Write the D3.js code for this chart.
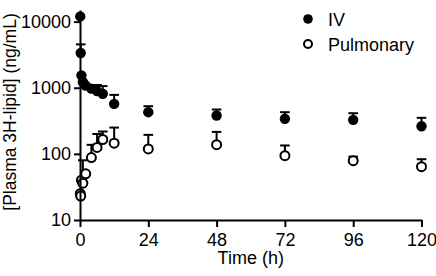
<!DOCTYPE html>
<html>
  <head>
    <title>Plasma 3H-lipid, IV vs pulmonary</title>
    <style>
      body {
        margin: 0;
        background: #fff;
      }
      svg text {
        font-family: 'Liberation Sans', Arial, sans-serif;
        fill: #000;
      }
    </style>
  </head>
  <body>
    <svg id="svg" width="436" height="276"></svg>
    <script src="https://cdn.jsdelivr.net/npm/d3@7"></script>
    <script>
      // sampling times (h)
      const times = [0.083, 0.25, 0.5, 1, 2, 4, 6, 8, 12, 24, 48, 72, 96, 120];
      // IV dose: mean and SD (ng/mL)
      const ivMean = [12000, 3350, 1540, 1220, 1080, 970, 890, 810, 570, 427, 380, 339, 327, 262];
      const ivSd = [400, 1180, 100, 80, 50, 130, 210, 250, 210, 99, 89, 88, 85, 89];
      // pulmonary dose: mean and SD (ng/mL)
      const pulMean = [25, 23, 40, 36, 50, 88, 125, 165, 145, 119, 138, 94, 79, 64];
      const pulSd = [1, 1, 2, 44, 4, 49, 75, 53, 105, 75, 77, 40, 12, 19];

      const xTicks = [0, 24, 48, 72, 96, 120];
      const yTicks = [10, 100, 1000, 10000];

      const plotLeft = 80;
      const plotRight = 421.5;
      const plotBottom = 220;
      const plotTop = 10;
      const r = 5.2;

      const x = d3.scaleLinear().domain([0, 120]).range([plotLeft, plotRight]);
      const y = d3.scaleLog().domain([10, 15000]).range([plotBottom, plotTop]);

      const svg = d3.select('#svg');

      const series = [
        { name: 'IV', mean: ivMean, sd: ivSd, fill: '#000' },
        { name: 'Pulmonary', mean: pulMean, sd: pulSd, fill: 'none' },
      ];

      // error bars (upper only) and points
      series.forEach((s) => {
        const g = svg.append('g');
        const rows = times.map((t, i) => ({ t, m: s.mean[i], up: s.mean[i] + s.sd[i] }));
        const bars = rows.filter((d) => y(d.m) - y(d.up) > 2.5);
        g.selectAll('.bar')
          .data(bars)
          .join('line')
          .attr('x1', (d) => x(d.t))
          .attr('x2', (d) => x(d.t))
          .attr('y1', (d) => y(d.m))
          .attr('y2', (d) => y(d.up))
          .attr('stroke', '#000')
          .attr('stroke-width', 2);
        g.selectAll('.cap')
          .data(bars)
          .join('line')
          .attr('x1', (d) => x(d.t) - 4.8)
          .attr('x2', (d) => x(d.t) + 4.8)
          .attr('y1', (d) => y(d.up))
          .attr('y2', (d) => y(d.up))
          .attr('stroke', '#000')
          .attr('stroke-width', 2);
        g.selectAll('circle')
          .data(rows)
          .join('circle')
          .attr('cx', (d) => x(d.t))
          .attr('cy', (d) => y(d.m))
          .attr('r', s.fill === 'none' ? r - 0.7 : r)
          .attr('fill', s.fill === 'none' ? '#fff' : s.fill)
          .attr('stroke', '#000')
          .attr('stroke-width', s.fill === 'none' ? 2 : 0);
      });

      // axes drawn last so the y axis line shows through the open markers
      const xAxis = svg
        .append('g')
        .attr('transform', `translate(0, ${plotBottom})`)
        .call(d3.axisBottom(x).tickValues(xTicks).tickSize(7).tickSizeOuter(0).tickPadding(6));
      const yAxis = svg
        .append('g')
        .attr('transform', `translate(${plotLeft}, 0)`)
        .call(
          d3
            .axisLeft(y)
            .tickValues(yTicks)
            .tickFormat(d3.format('d'))
            .tickSize(6)
            .tickSizeOuter(0)
            .tickPadding(3)
        );
      [xAxis, yAxis].forEach((a) => {
        a.select('.domain').attr('stroke-width', 2).attr('stroke', '#000');
        a.selectAll('.tick line').attr('stroke-width', 2).attr('stroke', '#000');
        a.selectAll('.tick text').style('font-size', '18px').attr('fill', '#000');
      });

      // axis titles
      svg
        .append('text')
        .attr('x', (plotLeft + plotRight) / 2)
        .attr('y', 264)
        .attr('text-anchor', 'middle')
        .style('font-size', '18px')
        .text('Time  (h)');
      svg
        .append('text')
        .attr('transform', `translate(16, 112) rotate(-90)`)
        .attr('text-anchor', 'middle')
        .style('font-size', '17.5px')
        .text('[Plasma 3H-lipid] (ng/mL)');

      // legend
      const legend = svg.append('g').attr('transform', 'translate(308, 19)');
      series.forEach((s, i) => {
        const row = legend.append('g').attr('transform', `translate(0, ${i * 25})`);
        row
          .append('circle')
          .attr('r', s.fill === 'none' ? 4 : 4.8)
          .attr('fill', s.fill)
          .attr('stroke', '#000')
          .attr('stroke-width', s.fill === 'none' ? 2 : 0);
        row
          .append('text')
          .attr('x', 20)
          .attr('y', 6.5)
          .style('font-size', '18px')
          .text(s.name);
      });
    </script>
  </body>
</html>
